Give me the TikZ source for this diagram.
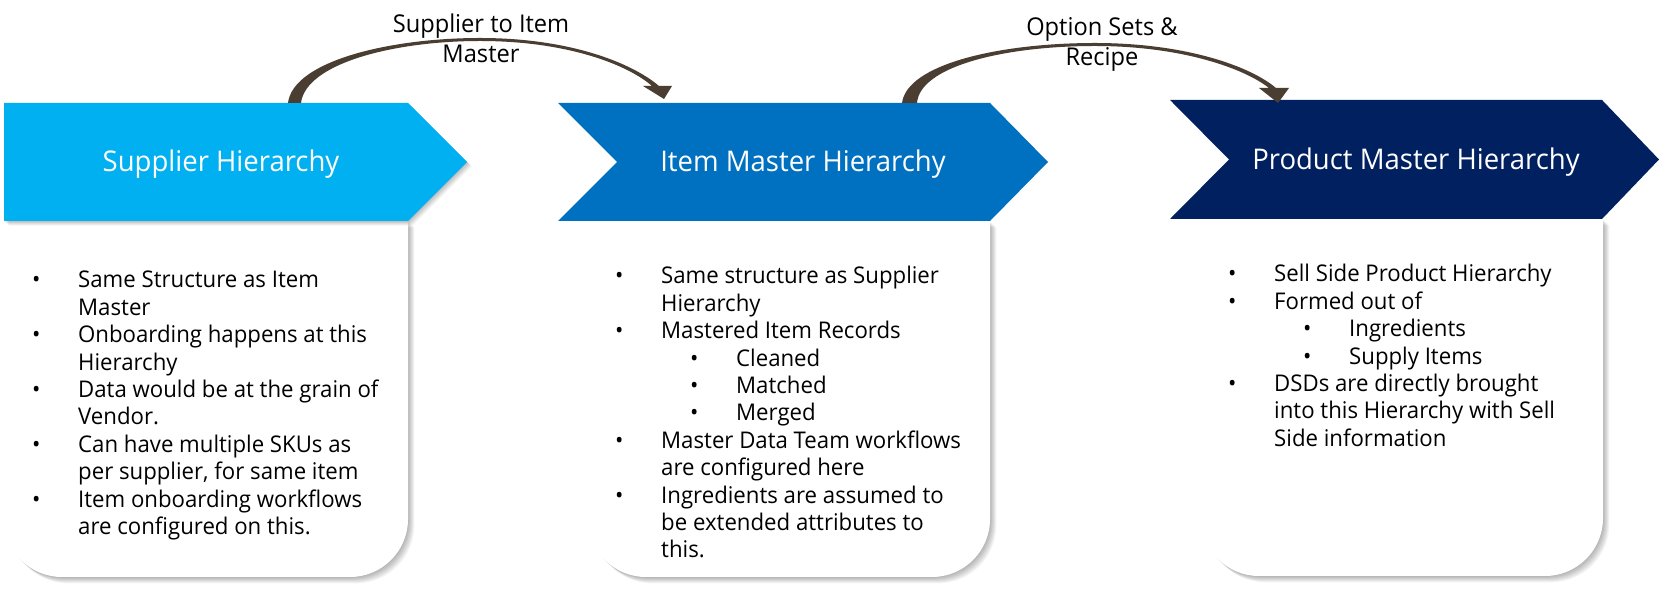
\documentclass[tikz,border=0pt]{standalone}
\usepackage{fontspec}
\setmainfont{Open Sans}[FakeStretch=0.965]
\definecolor{cA}{HTML}{00B0F0}
\definecolor{cB}{HTML}{0070C0}
\definecolor{cC}{HTML}{002060}
\definecolor{arr}{HTML}{4A3E32}
\newcommand{\bul}{\makebox[46pt][l]{•}}
\newcommand{\ind}{\hspace*{46pt}}
\newcommand{\sbul}{\hspace*{75pt}\makebox[46pt][l]{•}}
\newcommand{\card}[4]{%
  \foreach \s in {1,...,7}{%
    \fill[black,opacity=0.045,shift={(\s*0.9,-\s*0.9)}]
      (#1,#3) -- (#1,#4+58) arc[start angle=180,end angle=270,radius=58]
      -- (#2-58,#4) arc[start angle=270,end angle=360,radius=58] -- (#2,#3) -- cycle;
  }
  \fill[white] (#1,#3) -- (#1,#4+58) arc[start angle=180,end angle=270,radius=58]
      -- (#2-58,#4) arc[start angle=270,end angle=360,radius=58] -- (#2,#3) -- cycle;
}
\begin{document}
\begin{tikzpicture}[x=1pt,y=1pt,
  hdr/.style={text=white, font=\fontsize{28.5}{33}\selectfont, inner sep=0, anchor=base},
  body/.style={font=\fontsize{23}{27.4}\selectfont, align=left, inner sep=0, anchor=base west},
  lbl/.style={font=\fontsize{24.5}{30}\selectfont, align=center, inner sep=0, anchor=base},
  curvedarrow/.style={fill=arr, draw=none}
]
\useasboundingbox (0,0) rectangle (1661,591);
\fill[white] (0,0) rectangle (1661,591);

% cards
\card{4}{408}{370}{14}
\card{588}{990}{370}{14}
\card{1201}{1603}{372}{15}

% chevron 1 shadow
\foreach \s in {1,...,5}{
  \fill[black,opacity=0.05,shift={(\s*0.9,-\s*0.9)}]
    (4,488) -- (408,488) -- (467,429) -- (408,370) -- (4,370) -- cycle;
}
% chevrons
\fill[cA] (4,488) -- (408,488) -- (467,429) -- (408,370) -- (4,370) -- cycle;
\fill[cB] (558,488) -- (990,488) -- (1048,429) -- (990,370) -- (558,370) -- (617,429) -- cycle;
\fill[cC] (1170,491) -- (1602,491) -- (1659,431.5) -- (1602,372) -- (1170,372) -- (1229,431.5) -- cycle;

\node[hdr] (h1) at (221,419) {Supplier Hierarchy};
\node[hdr] (h2) at (803,419) {Item Master Hierarchy};
\node[hdr] (h3) at (1416,421) {Product Master Hierarchy};

% bodies (anchor is the baseline of the last line)
\node[body] (b1) at (32,56.4) {\bul Same Structure as Item\\
\ind Master\\
\bul Onboarding happens at this\\
\ind Hierarchy\\
\bul Data would be at the grain of\\
\ind Vendor.\\
\bul Can have multiple SKUs as\\
\ind per supplier, for same item\\
\bul Item onboarding workflows\\
\ind are configured on this.};

\node[body] (b2) at (615,33) {\bul Same structure as Supplier\\
\ind Hierarchy\\
\bul Mastered Item Records\\
\sbul Cleaned\\
\sbul Matched\\
\sbul Merged\\
\bul Master Data Team workflows\\
\ind are configured here\\
\bul Ingredients are assumed to\\
\ind be extended attributes to\\
\ind this.};

\node[body] (b3) at (1228,144.6) {\bul Sell Side Product Hierarchy\\
\bul Formed out of\\
\sbul Ingredients\\
\sbul Supply Items\\
\bul DSDs are directly brought\\
\ind into this Hierarchy with Sell\\
\ind Side information};

% curved arrows
\coordinate (a1s) at (294.5,488);
\coordinate (a1e) at (664,492);
\fill[curvedarrow] (288,488) .. controls (293,530) and (390,553) .. (480,553)
  .. controls (570,553) and (632,528) .. (659,505) -- (672,505) -- (a1e) -- (643,505) -- (652,505)
  .. controls (628,526) and (568,550) .. (480,550)
  .. controls (395,550) and (306,528) .. (301,488) -- cycle;

\coordinate (a2s) at (909.5,488);
\coordinate (a2e) at (1278,488);
\fill[curvedarrow] (902,488) .. controls (907,527) and (1000,548) .. (1095,548)
  .. controls (1185,548) and (1250,525) .. (1276,503) -- (1289,503) -- (a2e) -- (1259,503) -- (1269,503)
  .. controls (1245,522) and (1183,545) .. (1095,545)
  .. controls (1005,545) and (920,525) .. (917,488) -- cycle;

\node[lbl] (l1) at (481,528) {Supplier to Item\\Master};
\node[lbl] (l2) at (1102,525) {Option Sets \&\\Recipe};
\end{tikzpicture}
\end{document}
